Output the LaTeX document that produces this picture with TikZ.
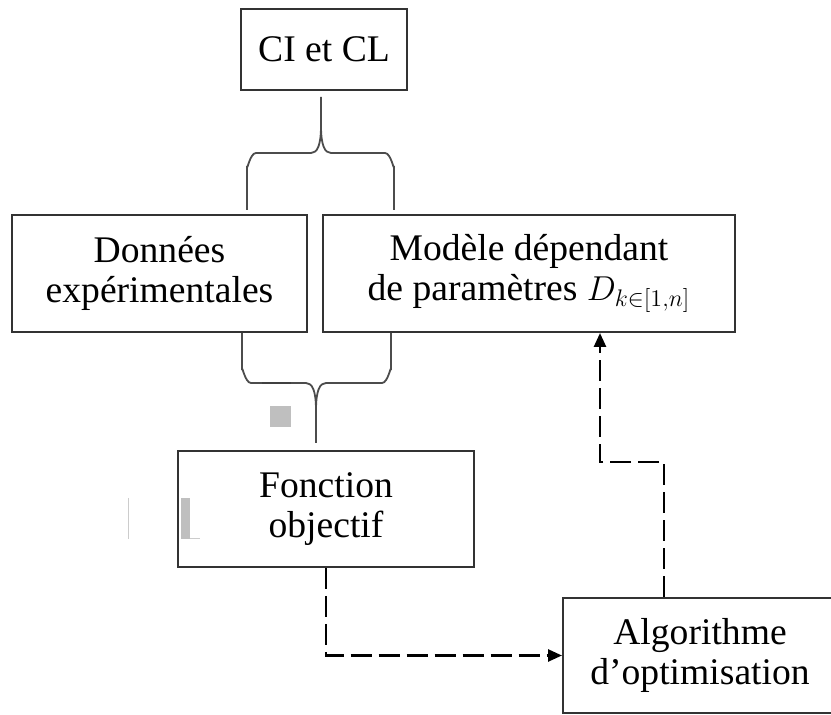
\documentclass[tikz,border=0pt]{standalone}
\usepackage{fontspec}
\setmainfont{Liberation Serif}
\usetikzlibrary{arrows.meta,calc}

\tikzset{
  box/.style={draw=black!80, line width=1pt, align=center, inner sep=0pt,
    font=\fontsize{18.8}{20}\selectfont},
  brace/.style={draw=black!70, line width=0.9pt},
  flow/.style={line width=1.3pt, dash pattern=on 10.5pt off 3.5pt,
    -{Triangle[length=7pt,width=6pt]}},
  blot/.style={fill=black!25, draw=none}
}

\begin{document}
\begin{tikzpicture}[x=0.5pt, y=-0.5pt]
  \useasboundingbox (0,0) rectangle (831,715);

  % boxes
  \node[box, minimum width=83pt, minimum height=40.5pt] (ci) at (324,49.5) {CI et CL};
  \node[box, minimum width=147.5pt, minimum height=58.5pt] (don) at (159.5,273.5)
    {Données\\expérimentales};
  \node[box, minimum width=206pt, minimum height=58.5pt] (mod) at (529,273.5)
    {Modèle dépendant\\de paramètres $D_{k\in[1,n]}$};
  \node[box, minimum width=148pt, minimum height=58pt] (fct) at (326,509)
    {Fonction\\objectif};
  \node[box, minimum width=137pt, minimum height=57.5pt] (algo) at (700,655.5)
    {Algorithme\\d’optimisation};

  % upper brace
  \draw[brace] (247,210) -- (247,166) to[out=-90,in=180] (256,153) -- (311,153)
    .. controls (317,153) and (321,146) .. (321,126) -- (321,97);
  \draw[brace] (394,210) -- (394,166) to[out=-90,in=0] (385,153) -- (331,153)
    .. controls (325,153) and (321,146) .. (321,126);

  % lower brace
  \draw[brace] (242,333) -- (242,370) to[out=90,in=180] (251,383) -- (306,383)
    .. controls (312,383) and (316,390) .. (316,410) -- (316,443);
  \draw[brace] (391,333) -- (391,370) to[out=90,in=0] (382,383) -- (326,383)
    .. controls (320,383) and (316,390) .. (316,410);
  \draw[line width=1.3pt, black!75] (262,383) -- (291,383);

  % grey marks
  \fill[blot] (270,406) rectangle (291,427);
  \fill[blot] (181,498) rectangle (190,539);
  \draw[black!20, line width=0.5pt] (128,498) -- (128,539);
  \draw[black!20, line width=0.5pt] (190,539) -- (200,539);

  % loop
  \draw[flow] (fct.south) |- (algo.west);
  \draw[flow] ($(algo.north west)+(102,0)$) -- ++(0,-135)
    -| ($(mod.south west)+(278,0)$);
\end{tikzpicture}
\end{document}
